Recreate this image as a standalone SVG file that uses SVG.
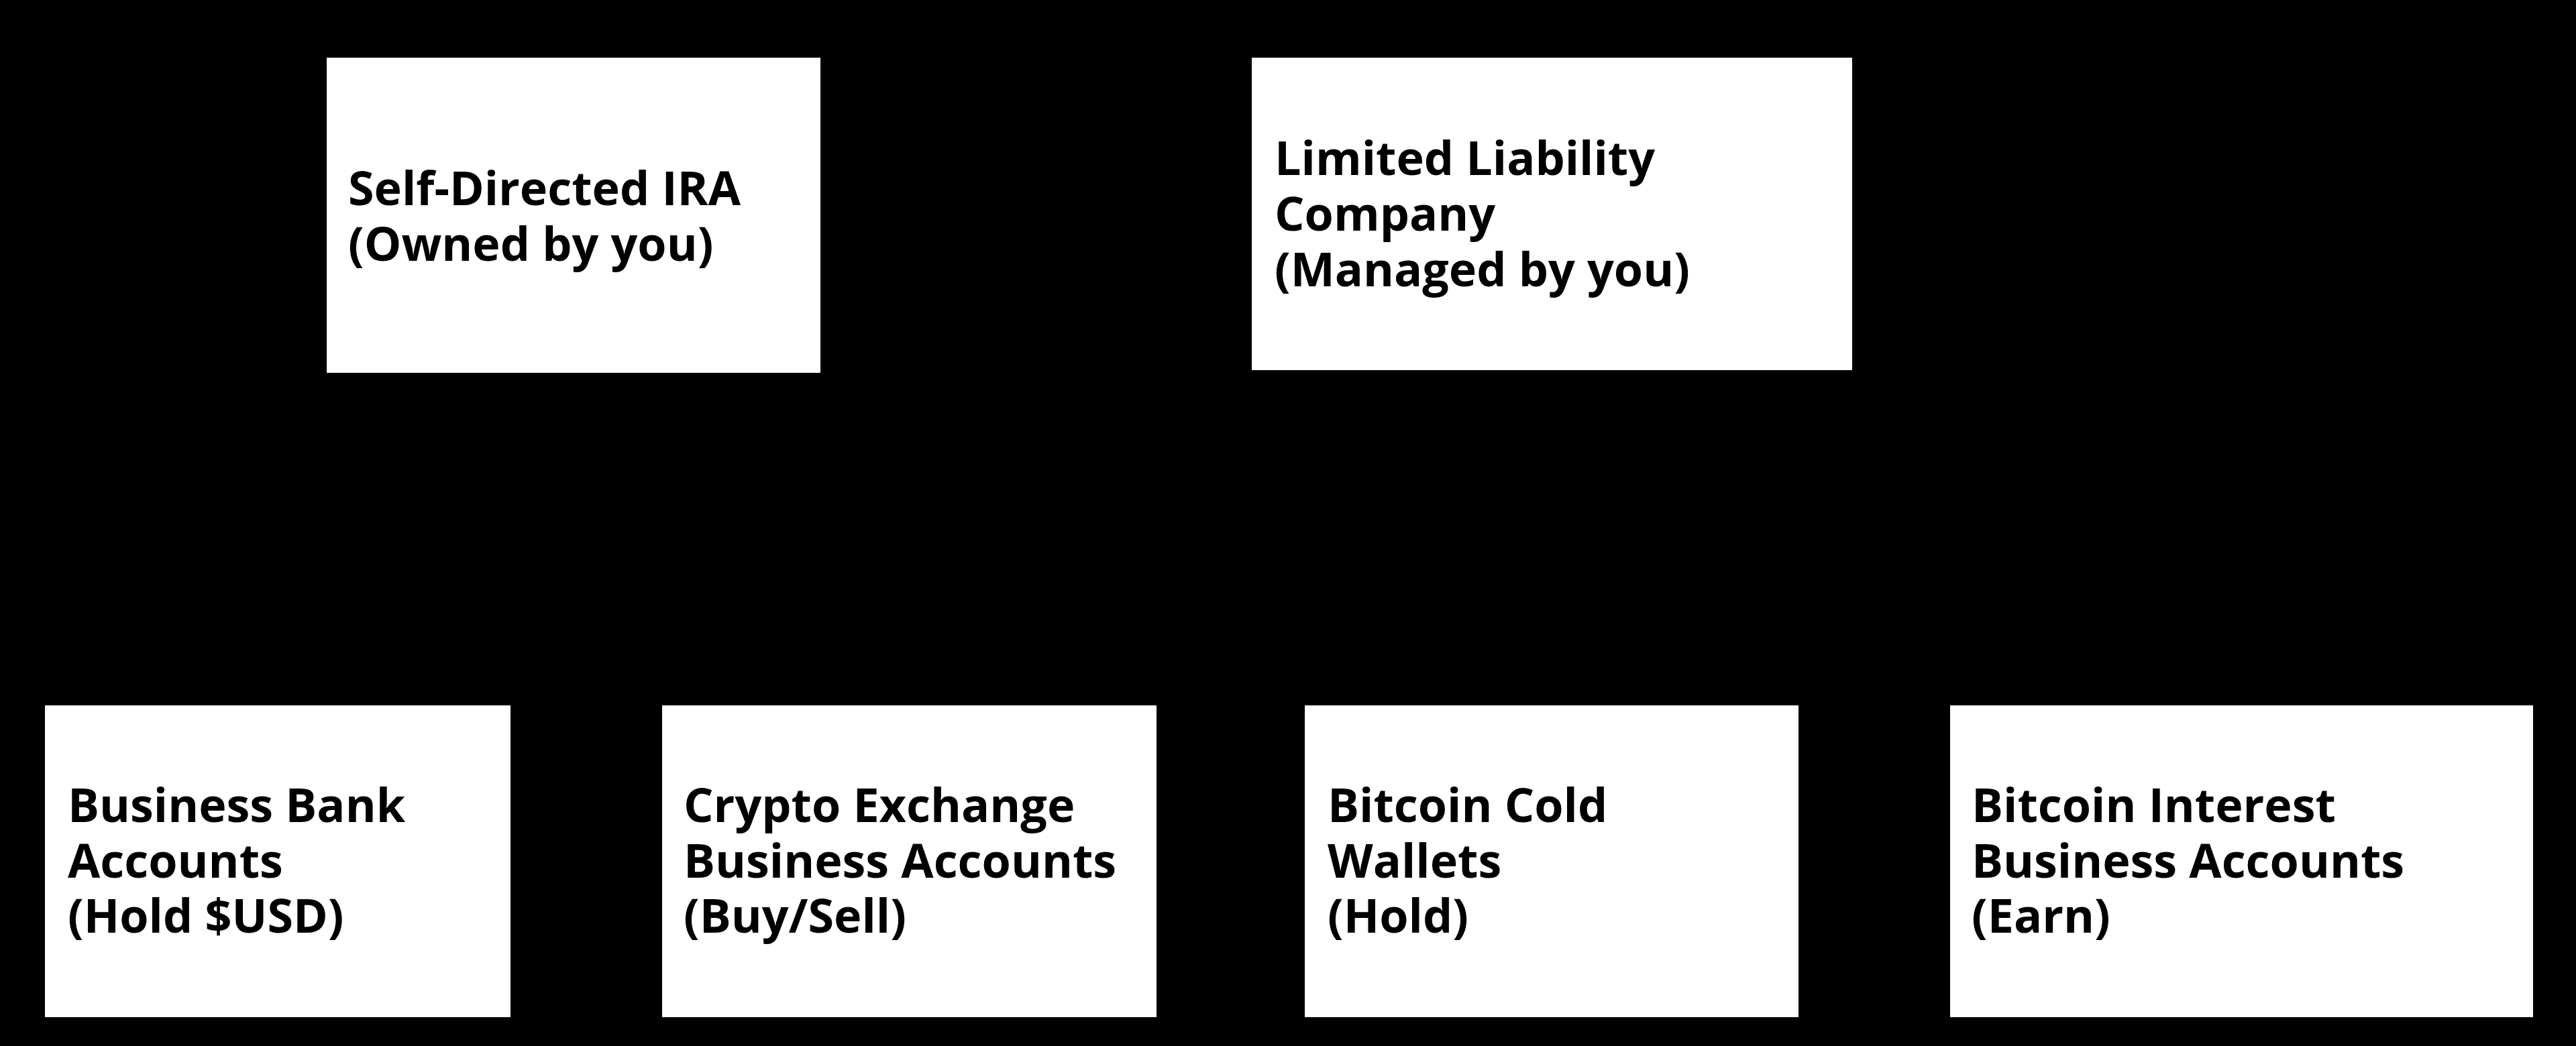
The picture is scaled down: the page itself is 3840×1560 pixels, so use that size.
<svg xmlns="http://www.w3.org/2000/svg" width="3840" height="1560" viewBox="0 0 3840 1560">
<style>
.box{fill:#ffffff;}
.lbl{font-family:"Open Sans","Noto Sans","Liberation Sans",sans-serif;font-weight:700;font-size:70px;fill:#000000;}
</style>
<rect x="0" y="0" width="3840" height="1560" fill="#000000"/>
<g id="connectors"></g>
<g id="ira">
<rect class="box" x="487" y="86" width="736" height="470"/>
<text class="lbl" x="519" y="306">Self-Directed IRA</text>
<text class="lbl" x="519" y="389">(Owned by you)</text>
</g>
<g id="llc">
<rect class="box" x="1866" y="86" width="895" height="466"/>
<text class="lbl" x="1900" y="261">Limited Liability</text>
<text class="lbl" x="1900" y="344">Company</text>
<text class="lbl" x="1900" y="427">(Managed by you)</text>
</g>
<g id="bank">
<rect class="box" x="67" y="1052" width="694" height="465"/>
<text class="lbl" x="101" y="1226">Business Bank</text>
<text class="lbl" x="101" y="1309">Accounts</text>
<text class="lbl" x="101" y="1391">(Hold $USD)</text>
</g>
<g id="exchange">
<rect class="box" x="987" y="1052" width="737" height="465"/>
<text class="lbl" x="1019" y="1226">Crypto Exchange</text>
<text class="lbl" x="1019" y="1309">Business Accounts</text>
<text class="lbl" x="1019" y="1391">(Buy/Sell)</text>
</g>
<g id="cold">
<rect class="box" x="1945" y="1052" width="736" height="465"/>
<text class="lbl" x="1979" y="1226">Bitcoin Cold</text>
<text class="lbl" x="1979" y="1309">Wallets</text>
<text class="lbl" x="1979" y="1391">(Hold)</text>
</g>
<g id="interest">
<rect class="box" x="2907" y="1052" width="869" height="465"/>
<text class="lbl" x="2939" y="1226">Bitcoin Interest</text>
<text class="lbl" x="2939" y="1309">Business Accounts</text>
<text class="lbl" x="2939" y="1391">(Earn)</text>
</g>
</svg>
